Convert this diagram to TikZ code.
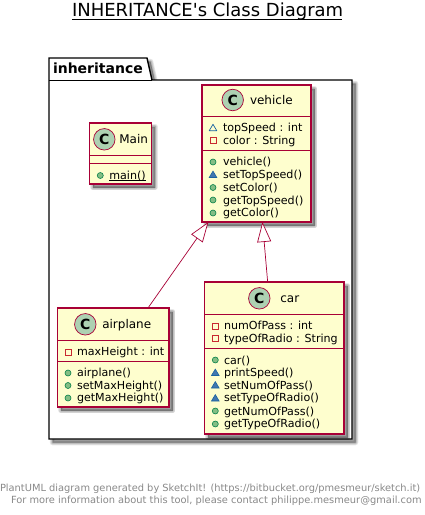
\documentclass[tikz,border=0pt]{standalone}
\usepackage{fontspec}
\setmainfont{DejaVu Sans}
\newfontfamily\titlefont{DejaVu Sans}
\usetikzlibrary{arrows.meta,calc}
\definecolor{umlborder}{HTML}{A80036}
\definecolor{umlfill}{HTML}{FEFECE}
\definecolor{spotfill}{HTML}{ADD1B2}
\definecolor{pubfill}{HTML}{84BE84}
\definecolor{publine}{HTML}{038048}
\definecolor{privline}{HTML}{C82930}
\definecolor{protline}{HTML}{1963A0}
\definecolor{protfill}{HTML}{4177AF}
\definecolor{footgray}{HTML}{888888}
\tikzset{
  x=1pt,y=-1pt,
  classbox/.style={draw=umlborder,fill=umlfill,line width=1.05pt,inner sep=0,outer sep=0,rectangle},
  txt/.style={inner sep=0,outer sep=0,anchor=base west,font=\fontsize{11.1}{13}\selectfont,text=black},
  cname/.style={inner sep=0,outer sep=0,anchor=base west,font=\fontsize{12}{14}\selectfont,text=black},
  spot/.style={circle,draw=umlborder,fill=spotfill,line width=.7pt,minimum size=21.5pt,inner sep=0,outer sep=0,font=\fontsize{14}{14}\bfseries\selectfont},
  divider/.style={draw=umlborder,line width=1pt},
  inh/.style={draw=umlborder,line width=.7pt,{Triangle[fill=white,length=20pt,width=14pt]}-},
  foot/.style={inner sep=0,outer sep=0,anchor=base west,font=\fontsize{9.85}{12}\selectfont,text=footgray},
}
% soft drop shadow of a closed path
\newcommand{\softshadow}[1]{%
  \foreach \w in {5.5,4,2.5,1}{%
    \filldraw[black,fill opacity=.09,draw opacity=.09,line width=\w pt,line join=round,shift={(3.5,3.5)}] #1;}}
\newcommand{\classshape}[5]{% name x1 y1 x2 y2
  \softshadow{(#2,#3) rectangle (#4,#5)}
  \pgfmathsetmacro{\cx}{(#2+#4)/2}\pgfmathsetmacro{\cy}{(#3+#5)/2}
  \pgfmathsetmacro{\ww}{#4-#2}\pgfmathsetmacro{\hh}{#5-#3}
  \node[classbox,minimum width=\ww pt,minimum height=\hh pt] (#1) at (\cx,\cy) {};}
\newcommand{\divline}[2]{\draw[divider] (#1.west |- 0,#2) -- (#1.east |- 0,#2);}
\newcommand{\pubicon}[2]{\filldraw[fill=pubfill,draw=publine,line width=.6pt] (#1,#2) circle (3pt);}
\newcommand{\privicon}[2]{\draw[draw=privline,line width=.8pt] ($(#1,#2)$) ++(-3,-3) rectangle ++(6,6);}
\newcommand{\proticon}[2]{\filldraw[fill=protfill,draw=protline,line width=.6pt] (#1-3.8,#2+3) -- (#1+3.8,#2+3) -- (#1,#2-3.4) -- cycle;}
\newcommand{\pkgicon}[2]{\draw[draw=protline,line width=.7pt,line join=round] (#1-3.8,#2+3) -- (#1+3.8,#2+3) -- (#1,#2-3.4) -- cycle;}
\begin{document}
\begin{tikzpicture}
\useasboundingbox (0,0) rectangle (424,515);
% title
\node[inner sep=0,outer sep=0,anchor=base west,font=\titlefont\fontsize{18}{20}\selectfont] (title) at (72,16) {INHERITANCE's Class Diagram};
\draw[line width=1pt] (72,19) -- (342,19);
% package
\def\pkgpath{(49,58) -- (147,58) -- (152,80) -- (352,80) -- (352,439) -- (49,439) -- cycle}
\softshadow{\pkgpath}
\filldraw[fill=white,draw=black,line width=1.4pt,line join=miter] \pkgpath;
\draw[black,line width=1pt] (49,80) -- (152,80);
\node[inner sep=0,outer sep=0,anchor=base west,font=\fontsize{14}{16}\bfseries\selectfont] (pkgname) at (53,73) {inheritance};
% classes
\classshape{vehicle}{202}{85}{311}{222}
\divline{vehicle}{116}\divline{vehicle}{150}
\classshape{mainc}{89.5}{123}{151.5}{184}
\divline{mainc}{155}\divline{mainc}{163}
\classshape{airplane}{57.5}{308}{169}{407}
\divline{airplane}{340}\divline{airplane}{361}
\classshape{car}{204.5}{282}{344}{434}
\divline{car}{314}\divline{car}{348}
% connectors
\draw[inh] (vehicle) -- (airplane);
\draw[inh] (vehicle) -- (car);
% vehicle
\node[spot] (s1) at (232.7,100) {C};
\node[cname] (n1) at (250,104.5) {vehicle};
\pkgicon{213}{127.7}\node[txt] at (223,131.7) {topSpeed : int};
\privicon{213}{140.7}\node[txt] at (223,144.7) {color : String};
\pubicon{213}{162}\node[txt] at (223,165.7) {vehicle()};
\proticon{213}{174.5}\node[txt] at (223,178.5) {setTopSpeed()};
\pubicon{213}{187.5}\node[txt] at (223,191) {setColor()};
\pubicon{213}{200}\node[txt] at (223,204) {getTopSpeed()};
\pubicon{213}{213}\node[txt] at (223,216.5) {getColor()};
% main
\node[spot] (s2) at (104.3,139.3) {C};
\node[cname] (n2) at (119.3,143.8) {Main};
\pubicon{100.3}{175.5}\node[txt] (mainm) at (109.3,179) {main()};
\draw[black,line width=.8pt] ($(mainm.base west)+(0,1.6)$) -- ($(mainm.base east)+(0,1.6)$);
% airplane
\node[spot] (s3) at (85.3,324.3) {C};
\node[cname] (n3) at (102.3,328.8) {airplane};
\privicon{68}{352}\node[txt] at (77,355.7) {maxHeight : int};
\pubicon{68}{373}\node[txt] at (77,376) {airplane()};
\pubicon{68}{385.5}\node[txt] at (77,389) {setMaxHeight()};
\pubicon{68}{398}\node[txt] at (77,401.5) {getMaxHeight()};
% car
\node[spot] (s4) at (259.3,298.3) {C};
\node[cname] (n4) at (280.3,302.8) {car};
\privicon{215.3}{326}\node[txt] at (224,329.7) {numOfPass : int};
\privicon{215.3}{338.8}\node[txt] at (224,342.5) {typeOfRadio : String};
\pubicon{215.3}{360}\node[txt] at (224,364) {car()};
\proticon{215.3}{372.5}\node[txt] at (224,376.5) {printSpeed()};
\proticon{215.3}{385}\node[txt] at (224,389) {setNumOfPass()};
\proticon{215.3}{398}\node[txt] at (224,401.5) {setTypeOfRadio()};
\pubicon{215.3}{411}\node[txt] at (224,415) {getNumOfPass()};
\pubicon{215.3}{424}\node[txt] at (224,427.5) {getTypeOfRadio()};
% footer
\node[foot] (f1) at (0,491) {PlantUML diagram generated by SketchIt! (https://bitbucket.org/pmesmeur/sketch.it)};
\node[foot] (f2) at (11,503) {For more information about this tool, please contact philippe.mesmeur@gmail.com};
\end{tikzpicture}
\end{document}
